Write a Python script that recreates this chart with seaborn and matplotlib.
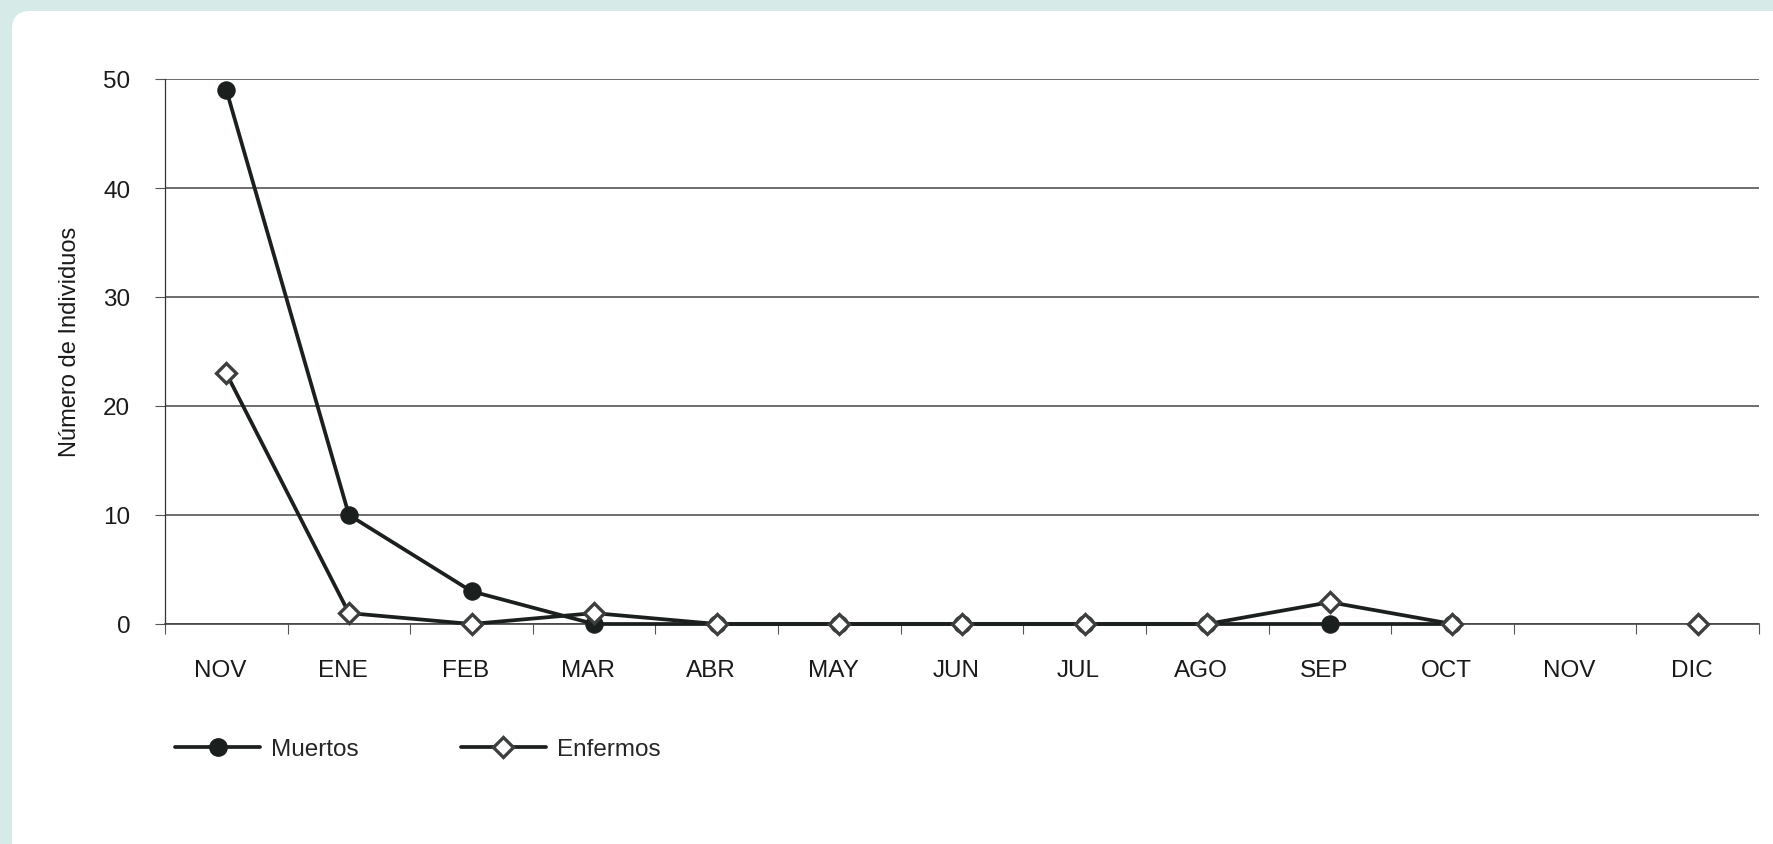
import numpy as np
import pandas as pd
import matplotlib
matplotlib.use("Agg")
import matplotlib.pyplot as plt
import matplotlib.transforms as mtransforms
import seaborn as sns
from matplotlib.lines import Line2D
from matplotlib.patches import FancyBboxPatch

# datos
meses = ["NOV", "ENE", "FEB", "MAR", "ABR", "MAY", "JUN", "JUL", "AGO", "SEP", "OCT", "NOV", "DIC"]
muertos = [49, 10, 3, 0, 0, 0, 0, 0, 0, 0, 0, np.nan, np.nan]
enfermos = [23, 1, 0, 1, 0, 0, 0, 0, 0, 2, 0, np.nan, 0]
tramo_enfermos = [0, 0, 0, 0, 0, 0, 0, 0, 0, 0, 0, 1, 1]
y_ticks = [0, 10, 20, 30, 40, 50]

pos = np.arange(len(meses))
df_m = pd.DataFrame({"pos": pos, "valor": muertos, "tramo": 0}).dropna()
df_e = pd.DataFrame({"pos": pos, "valor": enfermos, "tramo": tramo_enfermos}).dropna()

sns.set_style("white")
plt.rcParams["font.family"] = ["Liberation Sans", "DejaVu Sans"]

W, H = 1774, 845
fig = plt.figure(figsize=(W / 100, H / 100), dpi=100)
fig.patch.set_facecolor("#d6ebe8")
# panel blanco con esquinas redondeadas
fig.patches.append(FancyBboxPatch((12, -40), W + 40, H + 28,
                                  boxstyle="round,pad=0,rounding_size=18",
                                  transform=None, facecolor="white",
                                  edgecolor="none", zorder=-10))

ax = fig.add_axes([165 / W, 1 - 625 / H, (1759 - 165) / W, (625 - 80) / H])
ax.set_facecolor("none")

linea = "#1b201f"
sns.lineplot(data=df_m, x="pos", y="valor", units="tramo", estimator=None,
             ax=ax, color=linea, linewidth=2.7, marker="o", markersize=12.5,
             markerfacecolor=linea, markeredgecolor=linea, clip_on=False,
             legend=False, zorder=3)
sns.lineplot(data=df_e, x="pos", y="valor", units="tramo", estimator=None,
             ax=ax, color=linea, linewidth=2.7, marker="D", markersize=10.5,
             markerfacecolor="white", markeredgecolor="#3d3f3f",
             markeredgewidth=2.4, clip_on=False, legend=False, zorder=4)

ax.set_xlim(-0.5, len(meses) - 0.5)
ax.set_ylim(0, 50)
ax.set_xticks(pos)
ax.set_xticklabels(meses, fontsize=17.5, color="#1a1a1a")
ax.set_xticks(np.arange(-0.5, len(meses)), minor=True)
ax.tick_params(axis="x", which="major", length=0, pad=25)
ax.tick_params(axis="x", which="minor", length=7, width=0.8, color="#555555", direction="out", bottom=True)
# las etiquetas del original están un poco corridas a la izquierda
desplaz = mtransforms.ScaledTranslation(-6 / 100, 0, fig.dpi_scale_trans)
for lbl in ax.get_xticklabels():
    lbl.set_transform(lbl.get_transform() + desplaz)
ax.set_yticks(y_ticks)
ax.set_yticklabels([str(v) for v in y_ticks], fontsize=17.5, color="#1a1a1a")
ax.tick_params(axis="y", length=7, width=0.8, color="#555555", pad=18, left=True, direction="out")

ax.yaxis.grid(True, color="#6e6e6e", linewidth=1.4)
ax.xaxis.grid(False)
ax.set_axisbelow(True)
for s in ["top", "right"]:
    ax.spines[s].set_visible(False)
ax.spines["left"].set_color("#333333")
ax.spines["left"].set_linewidth(0.9)
ax.spines["bottom"].set_color("#444444")
ax.spines["bottom"].set_linewidth(1.2)

ax.set_xlabel("")
ax.set_ylabel("Número de Individuos", fontsize=17, color="#1a1a1a")
ax.yaxis.set_label_coords((81 - 165) / (1759 - 165), (625 - 342) / (625 - 80))

handles = [
    Line2D([], [], color=linea, linewidth=2.7, marker="o", markersize=12.5,
           markerfacecolor=linea, markeredgecolor=linea),
    Line2D([], [], color=linea, linewidth=2.7, marker="D", markersize=10.5,
           markerfacecolor="white", markeredgecolor="#3d3f3f", markeredgewidth=2.4),
]
fig.legend(handles, ["Muertos", "Enfermos"], loc="center left",
           bbox_to_anchor=(175 / W, 1 - 750 / H), ncol=2, frameon=False,
           fontsize=17.5, handlelength=3.5, handletextpad=0.46, columnspacing=4.2,
           borderpad=0, borderaxespad=0)

fig.savefig("out.png", dpi=100, facecolor=fig.get_facecolor())
